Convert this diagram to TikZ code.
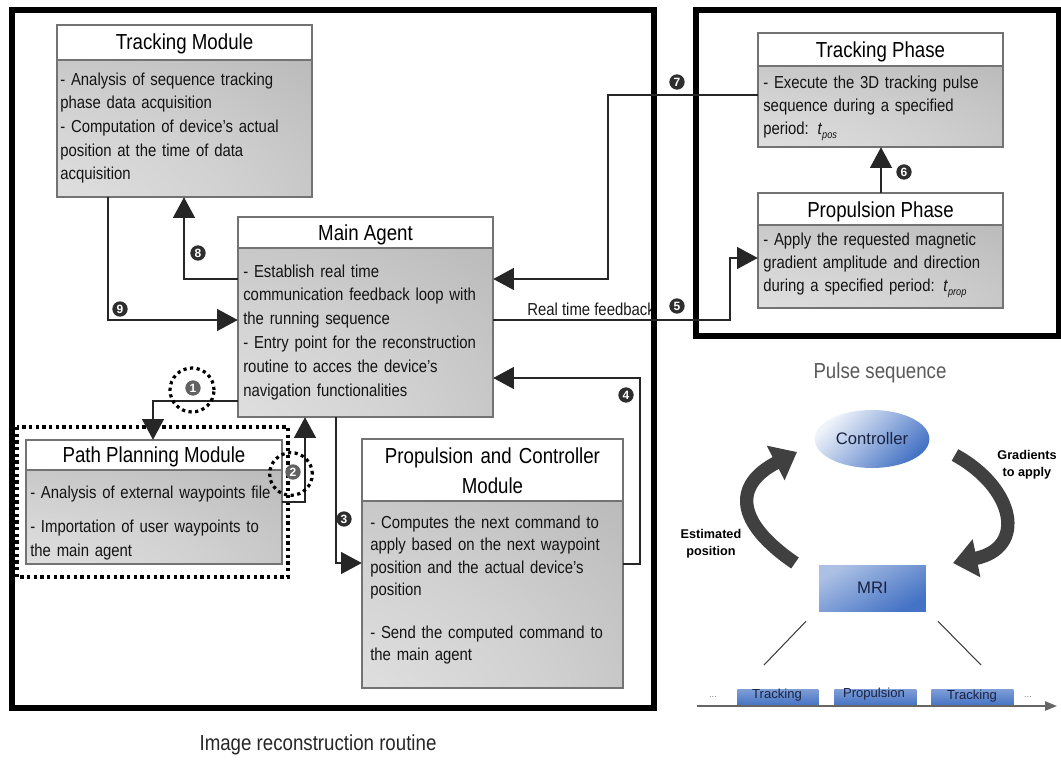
\documentclass[tikz,border=0pt]{standalone}
\usepackage{fontspec}
\setmainfont{Liberation Sans}[FakeStretch=0.86]
\newfontfamily\plainsans{Liberation Sans}
\usetikzlibrary{arrows.meta,fit,shapes.geometric}
\definecolor{cblue}{RGB}{68,114,196}
\definecolor{navy}{RGB}{25,35,65}
\pgfdeclareradialshading{boxshade}{\pgfpoint{-50bp}{-50bp}}{color(0bp)=(black!7); color(45bp)=(black!18); color(95bp)=(black!35); color(145bp)=(black!47)}
\newcommand\modbox[6]{%
  \shade[shading=boxshade] (#2,#5) rectangle (#4,#6);
  \draw[boxline, fill=white] (#2,#3) rectangle (#4,#5);
  \draw[boxline] (#2,#5) rectangle (#4,#6);
  \coordinate (#1-nw) at (#2,#3);
  \coordinate (#1-se) at (#4,#6);
  \node[fit=(#1-nw)(#1-se), inner sep=0pt] (#1) {};
}
\newcommand\tsub[1]{\raisebox{-0.4ex}{\fontsize{8}{8}\selectfont\itshape #1}}
\begin{document}
\begin{tikzpicture}[x=0.75pt,y=-0.75pt,
  conn/.style={draw=black!85, line width=0.9pt},
  arr/.style={conn, -{Triangle[length=15.5pt,width=16.5pt]}},
  badge/.style={circle, fill=black!82, text=white, inner sep=0pt, minimum size=11.5pt, font=\plainsans\bfseries\fontsize{9}{9}\selectfont},
  lbadge/.style={badge, fill=black!62},
  frame/.style={draw=black, line width=4.5pt},
  boxline/.style={draw=black!55, line width=0.8pt},
  titletext/.style={font=\fontsize{16.3}{22.5}\selectfont, text=black, inner sep=0pt, anchor=base},
  bodytext/.style={text=black!92, align=left, text width=330pt, anchor=base west, inner sep=0pt},
  dots/.style={draw=black, line width=2.4pt, dash pattern=on 2.4pt off 2.6pt},
  bigarr/.style={draw=black!75, line width=10pt, -{Triangle[length=18pt,width=28pt]}},
  tblock/.style={rectangle, inner sep=0pt, top color=cblue!70!white, bottom color=cblue, minimum height=12pt},
]
\useasboundingbox (0,0) rectangle (1061,760);

% labels under frames
\node[anchor=base west, inner sep=0pt, font=\fontsize{13}{15}\selectfont, text=black!90] (rtf) at (527,315) {Real time feedback};

% frames
\draw[frame] (12,10) rectangle (654,708);
\draw[frame] (696,10) rectangle (1059,336);

% dotted rectangle around path planning
\draw[dots] (17,427) rectangle (288,577);

% modules
\modbox{tm}{57}{25}{312}{60}{197}
\node[titletext] (tmt) at (184.5,49) {Tracking Module};
\node[bodytext, font=\fontsize{13}{17.8}\selectfont] (tmb) at (60,85) {- Analysis of sequence tracking\\phase data acquisition\\- Computation of device's actual\\position at the time of data\\acquisition};

\modbox{ma}{238}{217}{493}{248}{417}
\node[titletext] (mat) at (365.5,240) {Main Agent};
\node[bodytext, font=\fontsize{13}{17.9}\selectfont] (mab) at (243,277) {- Establish real time\\communication feedback loop with\\the running sequence\\- Entry point for the reconstruction\\routine to acces the device's\\navigation functionalities};

\modbox{pp}{26}{440}{282}{470}{564}
\node[titletext] (ppt) at (154,462) {Path Planning Module};
\node[bodytext, font=\fontsize{13}{17.9}\selectfont] (ppb) at (30,498) {- Analysis of external waypoints file\\[8pt]- Importation of user waypoints to\\the main agent};

\modbox{pc}{362}{439}{623}{501}{688}
\node[titletext, text width=190pt, align=center] (pct) at (492.5,463) {Propulsion and Controller\\Module};
\node[bodytext, font=\fontsize{13}{16.9}\selectfont] (pcb) at (370,528) {- Computes the next command to\\apply based on the next waypoint\\position and the actual device's\\position\\[15pt]- Send the computed command to\\the main agent};

\modbox{tp}{758}{33}{1003}{66}{147}
\node[titletext] (tpt) at (880.5,57) {Tracking Phase};
\node[bodytext, font=\fontsize{13}{17.6}\selectfont] (tpb) at (763,88) {- Execute the 3D tracking pulse\\sequence during a specified\\period: \textit{t}\tsub{pos}};

\modbox{ph}{758}{193}{1003}{225}{308}
\node[titletext] (pht) at (880.5,217) {Propulsion Phase};
\node[bodytext, font=\fontsize{13}{17.6}\selectfont] (phb) at (763,245) {- Apply the requested magnetic\\gradient amplitude and direction\\during a specified period: \textit{t}\tsub{prop}};

% connectors
\draw[arr] (tm.south -| 108,0) |- (ma.west |- 0,320);
\draw[arr] (ma.west |- 0,279) -| (tm.south -| 184,0);
\draw[arr] (ma.west |- 0,401) -| (pp.north -| 153,0);
\draw[arr] (pp.east |- 0,502) -| (ma.south -| 305,0);
\draw[arr] (ma.south -| 336,0) |- (pc.west |- 0,563);
\draw[arr] (pc.east |- 0,564) -| (640,378) -- (ma.east |- 0,378);
\draw[arr] (tp.west |- 0,95) -| (608,279) -- (ma.east |- 0,279);
\draw[arr] (ma.east |- 0,320) -| (730,258) -- (ph.west |- 0,258);
\draw[arr] (ph.north -| 881,0) -- (tp.south -| 881,0);

% dotted circles
\draw[dots] (192,390) circle [radius=16.5pt];
\draw[dots] (291,474) circle [radius=16pt];

% badges
\node[lbadge] (n1) at (193,388) {1};
\node[lbadge] (n2) at (293,472) {2};
\node[badge] (n3) at (344,519) {3};
\node[badge] (n4) at (626,395) {4};
\node[badge] (n5) at (677,306) {5};
\node[badge] (n6) at (904,172) {6};
\node[badge] (n7) at (677,82) {7};
\node[badge] (n8) at (198,253) {8};
\node[badge] (n9) at (120,309) {9};

% captions
\node[font=\fontsize{16.3}{18}\selectfont, text=black!85] (cap1) at (318,745) {Image reconstruction routine};
\node[font=\fontsize{16.3}{18}\selectfont, text=black!65] (cap2) at (880,373) {Pulse sequence};

% pulse sequence panel
\node[ellipse, minimum width=81pt, minimum height=43.5pt, top color=cblue!8!white, bottom color=cblue, shading angle=45, font=\plainsans\fontsize{12.5}{14}\selectfont, text=navy] (ctrl) at (872,439) {Controller};
\node[rectangle, minimum width=80pt, minimum height=34.5pt, top color=cblue!45!white, bottom color=cblue, shading angle=30, font=\plainsans\fontsize{12.5}{14}\selectfont, text=navy] (mri) at (872.5,588) {MRI};

\draw[bigarr] (795,563) .. controls (735,522) and (733,485) .. (797,452);
\draw[bigarr] (955,455) .. controls (1015,488) and (1027,548) .. (953,563);

\node[font=\plainsans\bfseries\fontsize{9.5}{12.5}\selectfont, align=center] (lg) at (1027,465) {Gradients\\to apply};
\node[font=\plainsans\bfseries\fontsize{9.5}{12.5}\selectfont, align=center] (le) at (711,544) {Estimated\\position};

\coordinate (l1b) at (764,665);
\coordinate (l2b) at (981,665);
\draw[black!75, line width=0.8pt] (mri.south -| 806,0) ++(0,10) -- (l1b);
\draw[black!75, line width=0.8pt] (mri.south -| 938,0) ++(0,10) -- (l2b);

\coordinate (axs) at (697,706);
\coordinate (axe) at (1057,706);
\node[tblock, minimum width=60.75pt, anchor=south west] (b1) at (737,706) {};
\node[tblock, minimum width=61.5pt, anchor=south west] (b2) at (834,706) {};
\node[tblock, minimum width=61.5pt, anchor=south west] (b3) at (931,706) {};
\draw[black!60, line width=1.1pt, -{Triangle[length=9pt,width=7pt]}] (axs) -- (axe);
\node[font=\plainsans\fontsize{9.8}{11}\selectfont, text=navy] (t1) at (777,695) {Tracking};
\node[font=\plainsans\fontsize{9.8}{11}\selectfont, text=navy] (t2) at (874,694) {Propulsion};
\node[font=\plainsans\fontsize{9.8}{11}\selectfont, text=navy] (t3) at (972,696) {Tracking};
\node[font=\plainsans\fontsize{7}{8}\selectfont, text=black!50] (d1) at (713,697) {...};
\node[font=\plainsans\fontsize{7}{8}\selectfont, text=black!50] (d2) at (1028,697) {...};
\end{tikzpicture}
\end{document}
